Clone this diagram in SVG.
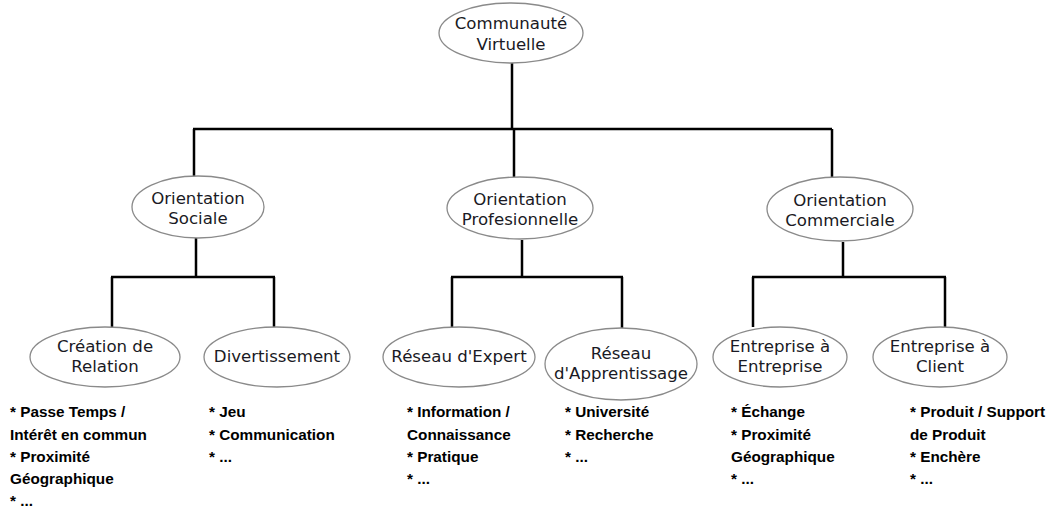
<svg xmlns="http://www.w3.org/2000/svg" width="1049" height="511" viewBox="0 0 1049 511">
<style>
.n ellipse{fill:#fff;stroke:#8a8a8a;stroke-width:1.3}
.n text{font-family:"DejaVu Sans",sans-serif;font-size:16.6px;fill:#1a1a24;text-anchor:middle}
.c{fill:none;stroke:#000;stroke-width:2.5}
.b{font-family:"Liberation Sans",Arial,sans-serif;font-size:15.3px;font-weight:bold;fill:#000}
</style>
<rect width="1049" height="511" fill="#fff"/>
<g id="connectors">
<path class="c" d="M512 63V129M193 129H832M194 129V177M514 129V177M832 129V177"/>
<path class="c" d="M196 238V277M111 277H275M112 277V327M274 277V327"/>
<path class="c" d="M522 240V277M451 277H623M452 277V327M622 277V328"/>
<path class="c" d="M843 242V277M752 277H946M753 277V327M945 277V327"/>
</g>
<g id="n-communaute" class="n"><ellipse cx="511" cy="33" rx="72" ry="30"/><text x="511" y="29">Communauté</text><text x="511" y="50">Virtuelle</text></g>
<g id="n-sociale" class="n"><ellipse cx="198" cy="207" rx="66" ry="31"/><text x="198" y="204">Orientation</text><text x="198" y="224">Sociale</text></g>
<g id="n-profesionnelle" class="n"><ellipse cx="520" cy="208" rx="73" ry="31"/><text x="520" y="205">Orientation</text><text x="520" y="225">Profesionnelle</text></g>
<g id="n-commerciale" class="n"><ellipse cx="840" cy="209" rx="73" ry="32"/><text x="840" y="206">Orientation</text><text x="840" y="226">Commerciale</text></g>
<g id="n-creation" class="n"><ellipse cx="105" cy="357" rx="75" ry="30"/><text x="105" y="352">Création de</text><text x="105" y="372">Relation</text></g>
<g id="n-divertissement" class="n"><ellipse cx="277" cy="357" rx="73" ry="30"/><text x="277" y="362">Divertissement</text></g>
<g id="n-expert" class="n"><ellipse cx="459" cy="357" rx="76" ry="30"/><text x="459" y="362">Réseau d'Expert</text></g>
<g id="n-apprentissage" class="n"><ellipse cx="621" cy="364" rx="76" ry="36"/><text x="621" y="359">Réseau</text><text x="621" y="379">d'Apprentissage</text></g>
<g id="n-b2b" class="n"><ellipse cx="780" cy="357" rx="67" ry="30"/><text x="780" y="352">Entreprise à</text><text x="780" y="372">Entreprise</text></g>
<g id="n-b2c" class="n"><ellipse cx="940" cy="357" rx="67" ry="30"/><text x="940" y="352">Entreprise à</text><text x="940" y="372">Client</text></g>
<g id="lists" class="b">
<text x="10" y="417">* Passe Temps /</text><text x="10" y="440">Intérêt en commun</text><text x="10" y="462">* Proximité</text><text x="10" y="484">Géographique</text><text x="10" y="506">* ...</text>
<text x="209" y="417">* Jeu</text><text x="209" y="440">* Communication</text><text x="209" y="462">* ...</text>
<text x="407" y="417">* Information /</text><text x="407" y="440">Connaissance</text><text x="407" y="462">* Pratique</text><text x="407" y="484">* ...</text>
<text x="565" y="417">* Université</text><text x="565" y="440">* Recherche</text><text x="565" y="462">* ...</text>
<text x="731" y="417">* Échange</text><text x="731" y="440">* Proximité</text><text x="731" y="462">Géographique</text><text x="731" y="484">* ...</text>
<text x="910" y="417">* Produit / Support</text><text x="910" y="440">de Produit</text><text x="910" y="462">* Enchère</text><text x="910" y="484">* ...</text>
</g>
</svg>
